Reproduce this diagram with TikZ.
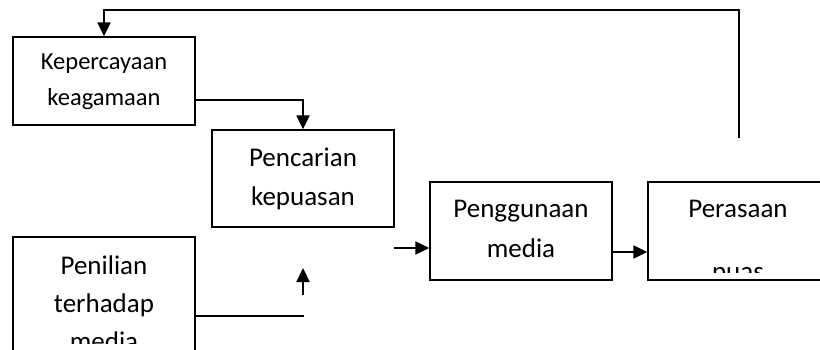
\documentclass[tikz,border=0pt]{standalone}
\usepackage{fontspec}
\setmainfont{Carlito}
\usetikzlibrary{arrows.meta}
\tikzset{
  box/.style={draw, line width=1.4pt, inner sep=0pt},
  txt/.style={anchor=base, inner sep=0pt, font=\fontsize{27}{38}\selectfont},
  txts/.style={anchor=base, inner sep=0pt, font=\fontsize{24.5}{36}\selectfont},
  conn/.style={line width=2.2pt},
  arr/.style={conn, -{Triangle[length=14pt,width=13pt]}}
}
\begin{document}
\begin{tikzpicture}[x=1pt,y=-1pt]
\useasboundingbox (0,0) rectangle (820,350);
\clip (0,0) rectangle (820,350);
\fill[white] (0,0) rectangle (820,350);
% boxes
\node[box, minimum width=182pt, minimum height=88pt] (kep) at (104,81) {};
\node[box, minimum width=182pt, minimum height=97pt] (pen) at (303,178.5) {};
\node[box, minimum width=182pt, minimum height=133pt] (pnl) at (104,303.5) {};
\node[box, minimum width=182pt, minimum height=98pt] (pgn) at (521,231) {};
\node[box, minimum width=182pt, minimum height=98pt] (prs) at (739,231) {};
% texts
\node[txts] (kepA) at (104,70) {Kepercayaan};
\node[txts] (kepB) at (104,106) {keagamaan};
\node[txt] (penA) at (303,167) {Pencarian};
\node[txt] (penB) at (303,205) {kepuasan};
\node[txt] (pnlA) at (104,274) {Penilian};
\node[txt] (pnlB) at (104,312) {terhadap};
\begin{scope}
\clip (0,0) rectangle (820,343);
\node[txt] (pnlC) at (104,350) {media};
\end{scope}
\node[txt] (pgnA) at (521,218) {Penggunaan};
\node[txt] (pgnB) at (521,257) {media};
\node[txt] (prsA) at (738,218) {Perasaan};
\begin{scope}
\clip (600,0) rectangle (820,272);
\node[txt] (prsB) at (738,280) {puas};
\end{scope}
% connectors
\coordinate (fb) at (739,138);
\draw[arr] (fb) |- ([yshift=26pt]kep.north) -- (kep.north);
\draw[arr] ([yshift=-19pt]kep.east) -| (pen.north);
\coordinate (c1) at (304,316);
\draw[conn] (c1 -| pnl.east) -- (c1);
\coordinate (u1) at (303,295);
\coordinate (u2) at (303,268);
\draw[arr] (u1) -- (u2);
\coordinate (a1) at (394,248);
\draw[arr] (a1) -- (a1 -| pgn.west);
\draw[arr] ([yshift=-21pt]pgn.east) -- ([yshift=-21pt]pgn.east -| prs.west);
\end{tikzpicture}
\end{document}
